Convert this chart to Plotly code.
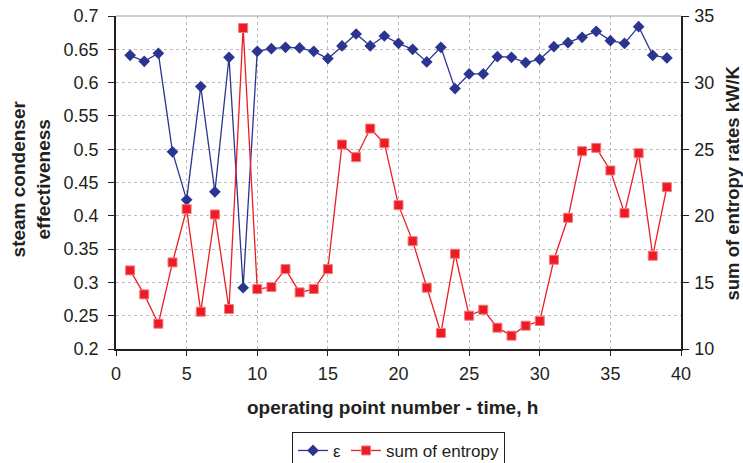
import plotly.graph_objects as go

hours = list(range(1, 40))
effectiveness = [0.641, 0.632, 0.644, 0.496, 0.424, 0.594, 0.436, 0.638, 0.292, 0.647,
                 0.651, 0.653, 0.652, 0.647, 0.636, 0.655, 0.673, 0.655, 0.670, 0.659,
                 0.650, 0.631, 0.653, 0.591, 0.613, 0.613, 0.639, 0.638, 0.630, 0.635,
                 0.654, 0.660, 0.668, 0.677, 0.663, 0.659, 0.684, 0.641, 0.637]
entropy = [15.9, 14.1, 11.9, 16.5, 20.5, 12.8, 20.1, 13.0, 34.1, 14.5,
           14.65, 16.0, 14.25, 14.5, 16.0, 25.35, 24.4, 26.55, 25.45, 20.8,
           18.1, 14.6, 11.2, 17.15, 12.5, 12.95, 11.6, 11.0, 11.75, 12.1,
           16.7, 19.85, 24.85, 25.1, 23.4, 20.2, 24.7, 17.0, 22.15]

x_title = "operating point number - time, h"
y_title = "steam condenser<br>effectiveness"
y2_title = "sum of entropy rates kW/K"

FONT = "Liberation Sans, Arial, sans-serif"
BLUE = "#2B3590"
RED = "#ED1C24"
INK = "#231F20"

fig = go.Figure()
fig.add_trace(go.Scatter(
    x=hours, y=effectiveness, name="ε", mode="lines+markers",
    line=dict(color=BLUE, width=1.3),
    marker=dict(symbol="diamond", size=9, color=BLUE),
))
fig.add_trace(go.Scatter(
    x=hours, y=entropy, name="sum of entropy", mode="lines+markers", yaxis="y2",
    line=dict(color=RED, width=1.3),
    marker=dict(symbol="square", size=9, color=RED, line=dict(color="#F47A80", width=1)),
))

fig.update_layout(
    width=743, height=463,
    margin=dict(l=116, r=62, t=16, b=114, autoexpand=False),
    paper_bgcolor="white", plot_bgcolor="white",
    font=dict(family=FONT, size=18, color=INK),
    showlegend=True,
    legend=dict(orientation="h", x=0.5, xanchor="center", y=-0.249, yanchor="top",
                bordercolor=INK, borderwidth=1, font=dict(size=17),
                itemwidth=30, tracegroupgap=0),
    xaxis=dict(range=[0, 40], dtick=5, tick0=0, showgrid=True,
               gridcolor="#BDBDBD", griddash="dot", gridwidth=1,
               showline=True, linecolor=INK, linewidth=1.5,
               ticks="outside", ticklen=5, tickcolor=INK, ticklabelstandoff=3,
               ticklabeloverflow="allow",
               mirror=False, zeroline=False, automargin=False),
    yaxis=dict(range=[0.2, 0.7], dtick=0.05, tick0=0.2, showgrid=True,
               gridcolor="#BDBDBD", griddash="dot", gridwidth=1,
               showline=True, linecolor=INK, linewidth=1.5,
               ticks="outside", ticklen=6, tickcolor=INK, zeroline=False,
               ticklabelstandoff=6, ticklabeloverflow="allow",
               tickformat="~g", automargin=False),
    yaxis2=dict(range=[10, 35], dtick=5, tick0=10, overlaying="y", side="right",
                showgrid=False, showline=True, linecolor=INK, linewidth=1.5,
                ticks="outside", ticklen=6, tickcolor=INK, zeroline=False,
                ticklabelstandoff=2, ticklabeloverflow="allow", automargin=False),
    shapes=[dict(type="line", xref="paper", yref="paper", x0=0, x1=1, y0=1, y1=1,
                 line=dict(color="#9E9E9E", width=1))],
    annotations=[
        dict(text=x_title, xref="paper", yref="paper", x=0.49, y=-0.177,
             xanchor="center", yanchor="middle", showarrow=False,
             font=dict(size=19, weight="bold", color=INK)),
        dict(text=y_title, xref="paper", yref="paper", x=-0.150, y=0.51,
             xanchor="center", yanchor="middle", showarrow=False, textangle=-90,
             font=dict(size=19, weight="bold", color=INK)),
        dict(text=y2_title, xref="paper", yref="paper", x=1.092, y=0.5,
             xanchor="center", yanchor="middle", showarrow=False, textangle=-90,
             font=dict(size=18.5, weight="bold", color=INK)),
    ],
)

# remove the default 8px page margin so the figure fills the window exactly
fig.write_html("out.html", config={"displayModeBar": False},
               post_script="document.body.style.margin='0';")
